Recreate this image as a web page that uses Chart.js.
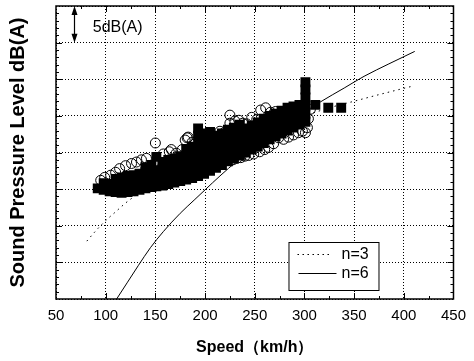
<!DOCTYPE html>
<html>
<head>
<meta charset="utf-8">
<script src="https://cdn.jsdelivr.net/npm/chart.js@4.4.0/dist/chart.umd.min.js"></script>
<style>
    body { margin: 0; background: #fff; }
    #wrap { width: 474px; height: 361px; }
</style>
</head>
<body>
<div id="wrap"><canvas id="myChart" width="474" height="361"></canvas></div>
<script>
// Axis ticks
const xTickLabels = [50, 100, 150, 200, 250, 300, 350, 400, 450];
const yGridValues = [0, 5, 10, 15, 20, 25, 30, 35, 40];

// Measured data: [speed, level] (level relative, 5 dB(A) per grid)
const squarePoints = [
    [92, 15.1],
    [98, 14.9], [98, 15.8],
    [104, 14.7], [104, 15.7],
    [110, 14.6], [110, 15.6], [110, 16.4],
    [116, 14.5], [116, 15.6], [116, 16.6],
    [122, 14.6], [122, 15.7], [122, 16.8],
    [128, 14.7], [128, 15.8], [128, 16.9],
    [134, 14.9], [134, 16.0], [134, 17.1],
    [140, 15.1], [140, 16.2], [140, 17.3], [140, 18.0],
    [146, 15.3], [146, 16.4], [146, 17.5], [146, 18.3],
    [151, 15.4], [151, 16.5], [151, 17.6], [151, 19.4],
    [157, 15.5], [157, 16.6], [157, 17.7], [157, 18.7],
    [163, 15.7], [163, 16.8], [163, 17.9], [163, 19.0],
    [169, 15.9], [169, 17.0], [169, 18.1], [169, 19.2],
    [175, 16.1], [175, 17.2], [175, 18.3], [175, 19.5],
    [181, 16.3], [181, 17.4], [181, 18.5], [181, 19.6], [181, 20.5],
    [187, 16.5], [187, 17.6], [187, 18.7], [187, 19.8], [187, 20.8],
    [193, 16.8], [193, 17.9], [193, 19.0], [193, 20.1], [193, 21.2], [193, 22.3], [193, 23.3],
    [199, 17.1], [199, 18.2], [199, 19.3], [199, 20.4], [199, 21.5], [199, 22.6],
    [205, 17.5], [205, 18.6], [205, 19.7], [205, 20.8], [205, 21.9], [205, 22.8],
    [211, 17.9], [211, 19.0], [211, 20.1], [211, 21.2], [211, 22.3],
    [217, 18.3], [217, 19.4], [217, 20.5], [217, 21.6], [217, 22.6],
    [223, 18.8], [223, 19.9], [223, 21.0], [223, 22.1], [223, 23.1],
    [229, 19.2], [229, 20.3], [229, 21.4], [229, 22.5], [229, 23.4],
    [235, 19.6], [235, 20.7], [235, 21.8], [235, 22.9], [235, 23.8],
    [241, 20.0], [241, 21.1], [241, 22.2], [241, 23.3],
    [247, 20.4], [247, 21.5], [247, 22.6], [247, 23.7],
    [253, 20.8], [253, 21.9], [253, 23.0], [253, 24.1],
    [259, 21.3], [259, 22.4], [259, 23.5], [259, 24.6],
    [265, 21.8], [265, 22.9], [265, 24.0], [265, 25.0],
    [271, 22.2], [271, 23.3], [271, 24.4], [271, 25.3],
    [277, 22.6], [277, 23.7], [277, 24.8], [277, 25.7],
    [283, 23.0], [283, 24.1], [283, 25.2], [283, 26.1],
    [289, 23.4], [289, 24.5], [289, 25.6], [289, 26.3],
    [295, 23.8], [295, 24.9], [295, 26.0], [295, 26.5],
    [301, 24.2], [301, 25.3], [301, 26.4], [301, 27.5], [301, 28.6], [301, 29.6],
    [311, 26.5], [324, 26.1], [337, 26.1]
];

const circlePoints = [
    [95, 16.2], [99, 16.6], [105, 16.9], [110, 17.3], [114, 17.8], [120, 18.2],
    [126, 18.5], [131, 18.7], [136, 19.0], [141, 19.2],
    [150, 21.3], [158, 19.8], [164, 20.1], [166, 20.4], [171, 19.9], [177, 20.4],
    [180, 21.7], [182, 22.0], [183, 22.1], [187, 21.4],
    [219, 22.7], [225, 24.0], [225, 25.1], [230, 24.3], [234, 24.4], [238, 24.0],
    [242, 23.9], [247, 24.8], [252, 24.5], [256, 25.8], [261, 26.1], [266, 25.5],
    [271, 25.6], [278, 24.9], [283, 25.7], [288, 26.0],
    [228, 19.0], [232, 19.2], [236, 19.3], [240, 19.5], [244, 19.6], [249, 19.8],
    [255, 20.1], [260, 20.4], [264, 20.7], [269, 21.2], [274, 22.0], [279, 21.8],
    [284, 22.1], [289, 22.4], [294, 22.7], [298, 22.9], [301, 22.7], [303, 23.4],
    [200, 20.8], [210, 21.6], [215, 22.9], [245, 22.2], [262, 23.0], [285, 24.3],
    [296, 25.0], [300, 25.8], [304, 24.6], [306, 25.9]
];

// Fitted curves
const n3Points = [
    [81, 7.9], [90, 9.3], [100, 10.7], [110, 11.9], [120, 13.1], [135, 14.6],
    [150, 16.0], [175, 18.0], [200, 19.7], [225, 21.3], [250, 22.6], [275, 23.9],
    [300, 25.0], [325, 26.1], [350, 27.0], [375, 27.9], [410, 29.1]
];
const n6Points = [
    [111, 0], [122, 2.3], [133, 4.6], [145, 7.0], [158, 9.2], [175, 11.7],
    [189, 13.5], [200, 14.9], [215, 16.8], [232, 18.8], [260, 21.7], [290, 24.6],
    [316, 26.9], [340, 28.8], [360, 30.4], [385, 32.1], [411, 33.8]
];

const toXY = (list) => list.map(p => ({ x: p[0], y: p[1] }));

// Frame, inner ticks, 5dB(A) marker and legend
const frameAndMarks = {
    id: 'frameAndMarks',
    afterDraw(chart) {
        const { ctx, chartArea: a, scales: { x, y } } = chart;
        ctx.save();
        ctx.strokeStyle = '#000';
        ctx.fillStyle = '#000';

        // inner ticks
        ctx.lineWidth = 1;
        ctx.beginPath();
        for (let v = 75; v < 450; v += 25) {
            const px = Math.round(x.getPixelForValue(v)) + 0.5;
            const len = v % 50 === 0 ? 6 : 3;
            ctx.moveTo(px, a.bottom); ctx.lineTo(px, a.bottom - len);
            ctx.moveTo(px, a.top); ctx.lineTo(px, a.top + len);
        }
        for (let v = 1; v < 40; v++) {
            const py = Math.round(y.getPixelForValue(v)) + 0.5;
            const len = v % 5 === 0 ? 6 : 3;
            ctx.moveTo(a.left, py); ctx.lineTo(a.left + len, py);
            ctx.moveTo(a.right, py); ctx.lineTo(a.right - len, py);
        }
        ctx.stroke();

        // frame
        ctx.lineWidth = 1.5;
        ctx.strokeRect(a.left, a.top, a.right - a.left, a.bottom - a.top);

        // 5dB(A) double arrow
        const ax = Math.round(x.getPixelForValue(68)) + 0.5;
        const yTop = y.getPixelForValue(40);
        const yBot = y.getPixelForValue(35);
        ctx.lineWidth = 1.2;
        ctx.beginPath();
        ctx.moveTo(ax, yTop + 4); ctx.lineTo(ax, yBot - 4);
        ctx.stroke();
        ctx.beginPath();
        ctx.moveTo(ax, yTop); ctx.lineTo(ax - 3, yTop + 9); ctx.lineTo(ax + 3, yTop + 9);
        ctx.closePath();
        ctx.moveTo(ax, yBot); ctx.lineTo(ax - 3, yBot - 9); ctx.lineTo(ax + 3, yBot - 9);
        ctx.closePath();
        ctx.fill();
        ctx.font = '16px Arial, "Liberation Sans", sans-serif';
        ctx.textBaseline = 'middle';
        ctx.fillText('5dB(A)', x.getPixelForValue(87), y.getPixelForValue(37.1));

        // legend box
        const bx = a.right - 165, by = a.bottom - 57, bw = 90, bh = 48;
        ctx.fillStyle = '#fff';
        ctx.fillRect(bx, by, bw, bh);
        ctx.lineWidth = 1;
        ctx.strokeRect(bx + 0.5, by + 0.5, bw, bh);
        ctx.fillStyle = '#000';
        ctx.beginPath();
        ctx.setLineDash([1.5, 3.5]);
        ctx.moveTo(bx + 9, by + 12.5); ctx.lineTo(bx + 42, by + 12.5);
        ctx.stroke();
        ctx.setLineDash([]);
        ctx.beginPath();
        ctx.moveTo(bx + 10, by + 31.5); ctx.lineTo(bx + 48, by + 31.5);
        ctx.stroke();
        ctx.fillText('n=3', bx + 53, by + 13);
        ctx.fillText('n=6', bx + 53, by + 32);
        ctx.restore();
    }
};

const chart = new Chart(document.getElementById('myChart'), {
    type: 'scatter',
    data: {
        datasets: [
            {
                label: 'squares',
                data: toXY(squarePoints),
                pointStyle: 'rect',
                pointRadius: 7,
                backgroundColor: '#000',
                borderColor: '#000',
                borderWidth: 0
            },
            {
                label: 'circles',
                data: toXY(circlePoints),
                pointStyle: 'circle',
                pointRadius: 5,
                backgroundColor: 'rgba(0,0,0,0)',
                borderColor: '#000',
                borderWidth: 1
            },
            {
                label: 'n=3',
                type: 'line',
                data: toXY(n3Points),
                borderColor: '#000',
                borderWidth: 1,
                borderDash: [1.5, 4],
                pointRadius: 0,
                cubicInterpolationMode: 'monotone',
                fill: false
            },
            {
                label: 'n=6',
                type: 'line',
                data: toXY(n6Points),
                borderColor: '#000',
                borderWidth: 1,
                pointRadius: 0,
                cubicInterpolationMode: 'monotone',
                fill: false
            }
        ]
    },
    options: {
        responsive: false,
        animation: false,
        devicePixelRatio: 1,
        layout: { padding: { top: 6, right: 13, left: 0, bottom: 0 }, autoPadding: false },
        plugins: { legend: { display: false }, tooltip: { enabled: false } },
        scales: {
            x: {
                type: 'linear',
                min: 50,
                max: 450,
                afterBuildTicks: (scale) => { scale.ticks = xTickLabels.map(v => ({ value: v })); },
                afterFit: (scale) => { scale.height = 62; },
                ticks: {
                    color: '#000',
                    padding: 8,
                    maxRotation: 0,
                    font: { family: 'Arial, "Liberation Sans", sans-serif', size: 15 }
                },
                grid: { color: '#000', lineWidth: 1, drawTicks: false },
                border: { display: false, dash: [1, 2] },
                title: {
                    display: true,
                    text: 'Speed（km/h）',
                    color: '#000',
                    padding: { top: 0, bottom: 4 },
                    font: { family: 'Arial, "Liberation Sans", sans-serif', size: 16, weight: 'bold' }
                }
            },
            y: {
                type: 'linear',
                min: 0,
                max: 40,
                afterBuildTicks: (scale) => { scale.ticks = yGridValues.map(v => ({ value: v })); },
                afterFit: (scale) => { scale.width = 56; },
                ticks: { display: false },
                grid: { color: '#000', lineWidth: 1, drawTicks: false },
                border: { display: false, dash: [1, 2] },
                title: {
                    display: true,
                    text: 'Sound Pressure Level dB(A)',
                    color: '#000',
                    padding: { top: 6, bottom: 0 },
                    font: { family: 'Arial, "Liberation Sans", sans-serif', size: 20, weight: 'bold' }
                }
            }
        }
    },
    plugins: [frameAndMarks]
});
</script>
</body>
</html>
